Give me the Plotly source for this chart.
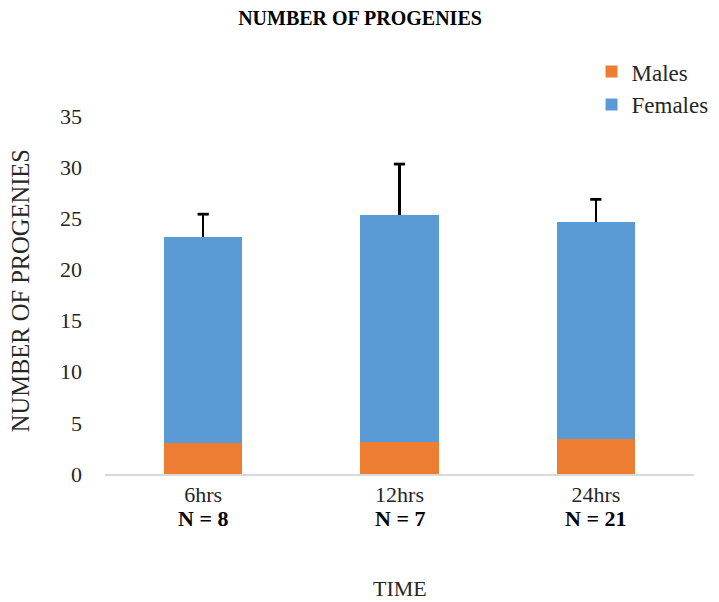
import plotly.graph_objects as go

categories = ["6hrs", "12hrs", "24hrs"]
n_labels = ["N = 8", "N = 7", "N = 21"]
males = [3.0, 3.1, 3.4]
females = [20.2, 22.2, 21.2]
female_err = [2.2, 5.0, 2.25]

FONT = "Liberation Serif, Times New Roman, serif"
TXT = "#262626"

totals = [m + f for m, f in zip(males, females)]
cap_y = [t + e for t, e in zip(totals, female_err)]

fig = go.Figure()
fig.add_trace(go.Bar(
    x=categories, y=males, name="Males",
    marker=dict(color="#ED7D31", line=dict(width=0)),
))
fig.add_trace(go.Bar(
    x=categories, y=females, name="Females",
    marker=dict(color="#5B9BD5", line=dict(width=0)),
    error_y=dict(type="data", array=female_err, arrayminus=[0, 0, 0],
                 symmetric=False, color="black", thickness=2.6, width=0),
))
# error bar caps (top only)
fig.add_trace(go.Scatter(
    x=categories, y=cap_y, mode="markers", showlegend=False, hoverinfo="skip",
    marker=dict(symbol="line-ew", size=8, color="black",
                line=dict(color="black", width=2.8)),
))

for c, n in zip(categories, n_labels):
    fig.add_annotation(x=c, xref="x", y=-0.123, yref="paper", yanchor="middle",
                       text="<b>" + n + "</b>", showarrow=False,
                       font=dict(family=FONT, size=22, color="black"))

fig.add_annotation(x=0.5, xref="paper", y=-0.32, yref="paper", yanchor="middle",
                   text="TIME", showarrow=False, font=dict(family=FONT, size=22, color=TXT))
fig.add_annotation(x=-0.144, xref="paper", y=0.511, yref="paper", xanchor="center",
                   yanchor="middle", textangle=-90, text="NUMBER OF PROGENIES",
                   showarrow=False, font=dict(family=FONT, size=24.5, color=TXT))

W, H = 711, 594  # page body adds an 8px offset
fig.update_layout(
    width=W, height=H,
    barmode="stack", bargap=0.6,
    paper_bgcolor="white", plot_bgcolor="white",
    margin=dict(l=97, r=25, t=108, b=128, autoexpand=False),
    font=dict(family=FONT, size=22, color=TXT),
    title=dict(text="<b>NUMBER OF PROGENIES</b>", x=(360 - 8) / W, xref="container",
               xanchor="center", y=1 - 10 / H, yref="container", yanchor="middle",
               font=dict(family=FONT, size=20, color="black")),
    legend=dict(x=0.826, xanchor="left", y=1.078, yanchor="middle",
                traceorder="normal", font=dict(family=FONT, size=23, color=TXT),
                bgcolor="rgba(0,0,0,0)"),
    xaxis=dict(showline=True, linecolor="#d9d9d9", linewidth=1.5, ticks="",
               tickfont=dict(family=FONT, size=22, color=TXT)),
    yaxis=dict(range=[0, 35], dtick=5, showgrid=False, zeroline=False, showline=False,
               ticks="", ticklabelstandoff=22,
               tickfont=dict(family=FONT, size=22, color=TXT)),
)

fig.write_html("out.html")
